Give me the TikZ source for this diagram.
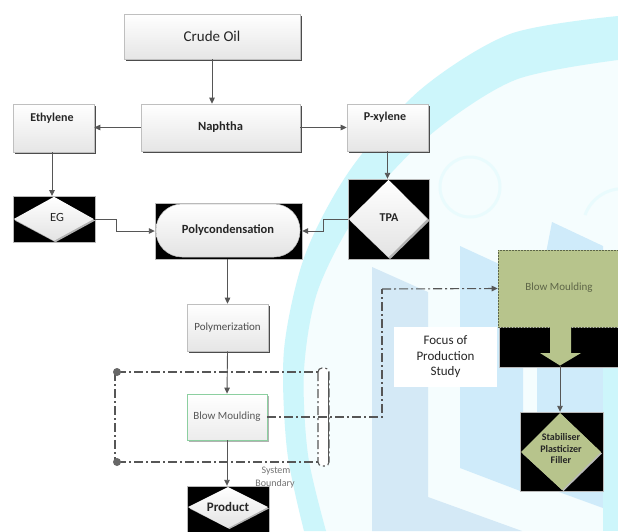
\documentclass[tikz,border=0pt]{standalone}
\usepackage{fontspec}
\setmainfont{Carlito}
\usetikzlibrary{arrows.meta,shadows,calc}

\definecolor{linegray}{HTML}{565656}
\definecolor{wmcyan}{HTML}{CDF6FB}
\definecolor{wmpale}{HTML}{F5FDFE}
\definecolor{wmblue}{HTML}{D4E9F6}
\definecolor{wmblue2}{HTML}{CFEBFA}
\definecolor{olivefill}{HTML}{B7C48C}
\definecolor{olivedark}{HTML}{5E6648}
\definecolor{mintedge}{HTML}{8CCFA0}

\tikzset{
  conn/.style={draw=linegray, line width=0.9pt, -{Triangle[length=6pt,width=5.5pt]}},
  dashdot/.style={draw=linegray, line width=1.1pt, dash pattern=on 9pt off 3pt on 2pt off 3pt},
  procbox/.style={draw=gray!50, line width=0.6pt, top color=white, bottom color=gray!20,
    general shadow={shadow xshift=2pt, shadow yshift=-2pt, fill=black!70},
    inner sep=0pt, text=black!85},
  blackbg/.style={fill=black, draw=gray!55, line width=0.4pt, inner sep=0pt},
  dshade/.style={fill=gray!60},
  dface/.style={top color=white, bottom color=gray!22},
  txt/.style={inner sep=0pt, text=black!85},
}

\begin{document}
\begin{tikzpicture}[x=1pt,y=-1pt]
\useasboundingbox (0,0) rectangle (618,531);
\fill[white] (0,0) rectangle (618,531);

% ---- background logo ----
\fill[wmpale] plot[smooth] coordinates {(618,40) (510,58) (435,110) (365,190) (320,280) (300,380) (305,460) (322,531)}
  -- (618,531) -- cycle;
\fill[wmcyan] plot[smooth] coordinates {(618,16) (510,34) (420,90) (350,170) (305,255) (284,350) (287,450) (304,531)}
  -- plot[smooth] coordinates {(326,531) (308,455) (304,370) (318,290) (360,210) (430,135) (515,80) (618,60)} -- cycle;
\draw[wmcyan!45, line width=3pt] (470,187) circle (30);
\draw[wmcyan!45, line width=3pt] (585,215) arc (200:270:40);
\fill[wmblue] (372,267) -- (428,292) -- (428,497) -- (522,531) -- (372,531) -- cycle;
\fill[wmblue2] (460,246) -- (523,275) -- (523,492) -- (460,468) -- cycle;
\fill[wmblue2] (552,222) -- (603,246) -- (603,508) -- (537,484) -- (537,300) -- cycle;
\fill[wmcyan] (603,250) -- (618,250) -- (618,531) -- (603,531) -- cycle;

% ---- process boxes ----
\node[procbox, minimum width=176pt, minimum height=45pt, font=\fontsize{15}{18}\selectfont] (crude) at (212,36.5) {Crude Oil};
\node[procbox, minimum width=159pt, minimum height=47pt, font=\bfseries\fontsize{12.5}{15}\selectfont] (naph) at (220.5,127.5) {Naphtha};
\node[procbox, minimum width=81pt, minimum height=48pt] (eth) at (53.5,128) {};
\node[txt, font=\bfseries\fontsize{12}{14}\selectfont] (ethtxt) at (52,118) {Ethylene};
\node[procbox, minimum width=81pt, minimum height=47pt] (pxy) at (387.5,127.5) {};
\node[txt, font=\bfseries\fontsize{12}{14}\selectfont] (pxytxt) at (385,117) {P-xylene};

% TPA
\node[blackbg, minimum width=81pt, minimum height=80pt] (tpa) at (388.5,219) {};
\fill[dshade] ($(tpa.north)+(1.5,2.5)$) -- ($(tpa.east)+(0.5,1.5)$) -- ($(tpa.south)+(1.5,0)$) -- ($(tpa.west)+(2,1.5)$) -- cycle;
\shade[dface] ($(tpa.north)+(0,1)$) -- ($(tpa.east)+(-2,0)$) -- ($(tpa.south)+(0,-2)$) -- ($(tpa.west)+(1,0)$) -- cycle;
\node[txt, font=\bfseries\fontsize{12}{14}\selectfont] (tpatxt) at (389,218) {TPA};

% EG
\node[blackbg, minimum width=82pt, minimum height=46pt] (eg) at (54,219) {};
\fill[dshade] ($(eg.north)+(1.5,2)$) -- ($(eg.east)+(0,1.5)$) -- ($(eg.south)+(1.5,0)$) -- ($(eg.west)+(2,1.5)$) -- cycle;
\shade[dface] ($(eg.north)+(0,1)$) -- ($(eg.east)+(-1.5,0)$) -- ($(eg.south)+(0,-1.5)$) -- ($(eg.west)+(1,0)$) -- cycle;
\node[txt, font=\fontsize{12.5}{15}\selectfont] (egtxt) at (57,217) {EG};

% Polycondensation
\node[blackbg, minimum width=147pt, minimum height=56pt] (polybg) at (228.5,231) {};
\node[draw=gray!45, line width=0.5pt, top color=white, bottom color=gray!22, rounded corners=26pt,
  minimum width=144pt, minimum height=53pt, inner sep=0pt, text=black!85,
  font=\bfseries\fontsize{12.5}{15}\selectfont] (poly) at (228,230.5) {Polycondensation};

% Polymerization
\node[procbox, minimum width=81pt, minimum height=47pt, text=black!70, font=\fontsize{11}{13}\selectfont] (polym) at (227.5,327.5) {Polymerization};

% Blow Moulding inside the boundary
\node[draw=mintedge, line width=0.8pt, top color=white, bottom color=gray!15,
  general shadow={shadow xshift=1.5pt, shadow yshift=-1.5pt, fill=gray!60},
  minimum width=80pt, minimum height=46pt, inner sep=0pt, text=black!65,
  font=\fontsize{11}{13}\selectfont] (blow) at (227,417) {Blow Moulding};

% Product
\node[blackbg, minimum width=82pt, minimum height=47pt] (prod) at (228,509.5) {};
\coordinate (pn) at (228,487);
\coordinate (pe) at (268,507);
\coordinate (ps) at (228,528);
\coordinate (pw) at (188,507);
\fill[dshade] ($(pn)+(1.5,1.5)$) -- ($(pe)+(1,1.5)$) -- ($(ps)+(1.5,1)$) -- ($(pw)+(1.5,1.5)$) -- cycle;
\shade[dface] (pn) -- (pe) -- (ps) -- (pw) -- cycle;
\node[txt, font=\bfseries\fontsize{13}{15}\selectfont] (prodtxt) at (228,507) {Product};

% System boundary
\draw[dashdot] (117,372) -- (318,372);
\draw[dashdot] (117,462) -- (318,462);
\draw[dashdot] (115,372) -- (115,462);
\draw[dashdot, fill=white, rounded corners=4pt] (318,368) rectangle (329,466);
\draw[linegray, line width=0.9pt] (328,372) -- (328,462);
\fill[linegray!90] (117,372) circle (4);
\fill[linegray!90] (117,462) circle (4);
\node[txt, text=black!55, font=\fontsize{10}{12}\selectfont] (sys1) at (276,471) {System};
\node[txt, text=black!55, font=\fontsize{10}{12}\selectfont] (sys2) at (275,484) {Boundary};

% Focus of Production Study
\node[fill=white, minimum width=103pt, minimum height=60pt, inner sep=0pt, align=center,
  text=black!85, font=\fontsize{13}{15.5}\selectfont] (focus) at (445.5,357) {Focus of\\Production\\Study};

% Blow Moulding detail
\node[blackbg, minimum width=123pt, minimum height=40pt] (blowbg) at (560.5,347) {};
\node[fill=olivefill, draw=olivedark, line width=0.6pt, dash pattern=on 2pt off 1pt,
  minimum width=124pt, minimum height=77pt, inner sep=0pt] (blowr) at (560,288.5) {};
\node[txt, text=olivedark, font=\fontsize{11}{13}\selectfont] (blowrtxt) at (559,288) {Blow Moulding};
\fill[olivefill] (550,326) -- (571,326) -- (571,353) -- (581,353) -- (560,365.5) -- (540,353) -- (550,353) -- cycle;
\coordinate (btip) at (560,365.5);

% Additives
\node[blackbg, minimum width=83pt, minimum height=79pt] (add) at (561.5,451.5) {};
\coordinate (an) at (560,413);
\coordinate (ae) at (601,452);
\coordinate (as) at (562,490);
\coordinate (aw) at (521,452);
\fill[gray!55] ($(an)+(1.5,1.5)$) -- ($(ae)+(1,1.5)$) -- ($(as)+(1.5,1)$) -- ($(aw)+(1.5,1.5)$) -- cycle;
\fill[olivefill] (an) -- (ae) -- (as) -- (aw) -- cycle;
\node[txt, align=center, text=black!85, font=\bfseries\fontsize{10}{11.5}\selectfont] (addtxt) at (561,449) {Stabiliser\\Plasticizer\\Filler};

% ---- connectors ----
\draw[conn] (crude.south) -- (crude.south |- naph.north);
\draw[conn] (naph.west) -- (naph.west -| eth.east);
\draw[conn] (naph.east) -- (naph.east -| pxy.west);
\draw[conn] (pxy.south) -- (pxy.south |- tpa.north);
\draw[conn] (52,152) -- (52,196);
\draw[conn] (eg.east) -- (116,219) -- (116,231) -- (polybg.west);
\draw[conn] (tpa.west) -- (323,219) -- (323,231) -- (polybg.east);
\draw[conn] (227.5,259) -- (polym.north);
\draw[conn] (polym.south) -- (blow.north);
\draw[conn] (blow.south) -- (blow.south |- prod.north);
\draw[conn] (btip) -- (btip |- add.north);
\draw[dashdot] (blow.east) -- (382,417) -- (382,289);
\draw[dashdot, -{Triangle[length=6pt,width=5.5pt]}] (382,289) -- (blowr.west);
\end{tikzpicture}
\end{document}
